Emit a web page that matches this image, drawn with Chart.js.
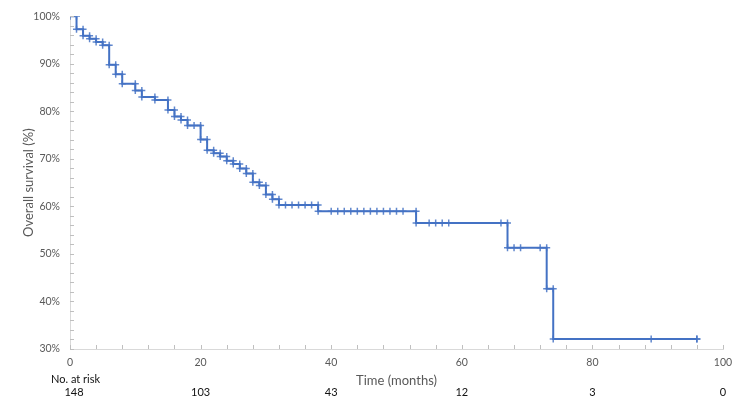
<!DOCTYPE html>
<html><head><meta charset="utf-8">
<script src="https://cdn.jsdelivr.net/npm/chart.js@4.4.1/dist/chart.umd.min.js"></script>
<style>html,body{margin:0;padding:0;background:#fff}#wrap{width:750px;height:415px}</style>
</head><body><div id="wrap"><canvas id="c" width="750" height="415"></canvas></div>
<script>
// Kaplan-Meier data
const eventTimes    = [1, 2, 3, 4, 5, 6, 7, 8, 10, 11, 13, 15, 16, 17, 18, 20, 21, 22, 23, 24, 25, 26, 27, 28, 29, 30, 31, 32, 38, 53, 67, 73, 74];
const survivalAfter = [97.3, 95.9, 95.3, 94.6, 93.9, 89.8, 87.8, 85.8, 84.4, 83.0, 82.4, 80.3, 78.9, 78.2, 77.0, 74.1, 71.8, 71.2, 70.5, 69.6, 68.9, 68.0, 66.9, 65.1, 64.4, 62.5, 61.5, 60.3, 59.0, 56.5, 51.3, 42.7, 32.1];
const censorTimes   = [19, 33, 34, 35, 36, 37, 40, 41, 42, 43, 44, 45, 46, 47, 48, 49, 50, 51, 55, 56, 57, 58, 66, 68, 69, 72, 89, 96];
const lastFollowUp  = 96;
const riskTimes     = [0, 20, 40, 60, 80, 100];
const numberAtRisk  = [148, 103, 43, 12, 3, 0];

function survivalAt(t) {
  let s = 100;
  for (let i = 0; i < eventTimes.length; i++) if (eventTimes[i] <= t) s = survivalAfter[i];
  return s;
}
const stepPoints = [{x: 0, y: 100}];
let prev = 100;
eventTimes.forEach((t, i) => {
  stepPoints.push({x: t, y: prev});
  stepPoints.push({x: t, y: survivalAfter[i]});
  prev = survivalAfter[i];
});
stepPoints.push({x: lastFollowUp, y: prev});
const censorPoints = censorTimes.map(t => ({x: t, y: survivalAt(t)}));

const BLUE = '#4472C4';
const AXIS = '#d9d9d9';
const TXT = '#595959';
const FONT = 'Lato, "Open Sans", sans-serif';

const insideTicks = {
  id: 'insideTicks',
  afterDraw(chart) {
    const {ctx, chartArea: ca, scales: {x, y}} = chart;
    ctx.save();
    ctx.strokeStyle = '#bfbfbf';
    ctx.lineWidth = 1;
    ctx.beginPath();
    y.ticks.forEach(t => {
      const py = Math.round(y.getPixelForValue(t.value)) + 0.5;
      ctx.moveTo(ca.left, py); ctx.lineTo(ca.left + 4, py);
    });
    x.ticks.forEach(t => {
      const px = Math.round(x.getPixelForValue(t.value)) + 0.5;
      ctx.moveTo(px, ca.bottom); ctx.lineTo(px, ca.bottom - 4);
    });
    ctx.stroke();
    // number at risk table
    ctx.fillStyle = '#111';
    ctx.font = '11px ' + FONT;
    ctx.textBaseline = 'middle';
    ctx.textAlign = 'left';
    ctx.fillText('No. at risk', 51, 379);
    ctx.textAlign = 'center';
    riskTimes.forEach((t, i) => {
      ctx.fillText(String(numberAtRisk[i]), x.getPixelForValue(t) + (i === 0 ? 4 : 0), 392);
    });
    ctx.restore();
  }
};

new Chart(document.getElementById('c'), {
  type: 'scatter',
  data: {
    datasets: [
      {
        data: stepPoints, showLine: true, borderColor: BLUE, borderWidth: 2,
        pointStyle: 'cross', pointRadius: 3.5, pointBorderWidth: 1.5,
        pointBorderColor: 'rgba(68,114,196,0.85)', pointBackgroundColor: BLUE, tension: 0, fill: false
      },
      {
        data: censorPoints, showLine: false,
        pointStyle: 'cross', pointRadius: 3.5, pointBorderWidth: 1.5,
        pointBorderColor: 'rgba(68,114,196,0.85)', pointBackgroundColor: BLUE
      }
    ]
  },
  options: {
    responsive: false, animation: false, devicePixelRatio: 1,
    layout: {padding: {left: 0, right: 27, top: 12, bottom: 0}},
    plugins: {legend: {display: false}, tooltip: {enabled: false}},
    scales: {
      x: {
        type: 'linear', min: 0, max: 100,
        afterFit(s) { s.height = 66; },
        border: {display: true, color: AXIS, width: 1},
        grid: {display: true, drawOnChartArea: false, drawTicks: false, color: AXIS},
        ticks: {
          stepSize: 4, autoSkip: false, maxRotation: 0, padding: 7, color: TXT,
          font: {family: FONT, size: 10.5},
          callback: v => (Math.round(v) % 20 === 0 ? String(Math.round(v)) : '')
        },
        title: {display: true, text: 'Time (months)', color: TXT,
          font: {family: FONT, size: 13}, padding: {top: 0, bottom: 26}}
      },
      y: {
        type: 'linear', min: 30, max: 100,
        afterFit(s) { s.width = 70; },
        border: {display: true, color: AXIS, width: 1},
        grid: {display: true, drawOnChartArea: false, drawTicks: false, color: AXIS},
        ticks: {
          stepSize: 2, autoSkip: false, padding: 10, color: TXT,
          font: {family: FONT, size: 10.5},
          callback: v => (Math.round(v) % 10 === 0 ? Math.round(v) + '%' : '')
        },
        title: {display: true, text: 'Overall survival (%)', color: TXT,
          font: {family: FONT, size: 13}, padding: {top: 21, bottom: 0}}
      }
    }
  },
  plugins: [insideTicks]
});
</script></body></html>
